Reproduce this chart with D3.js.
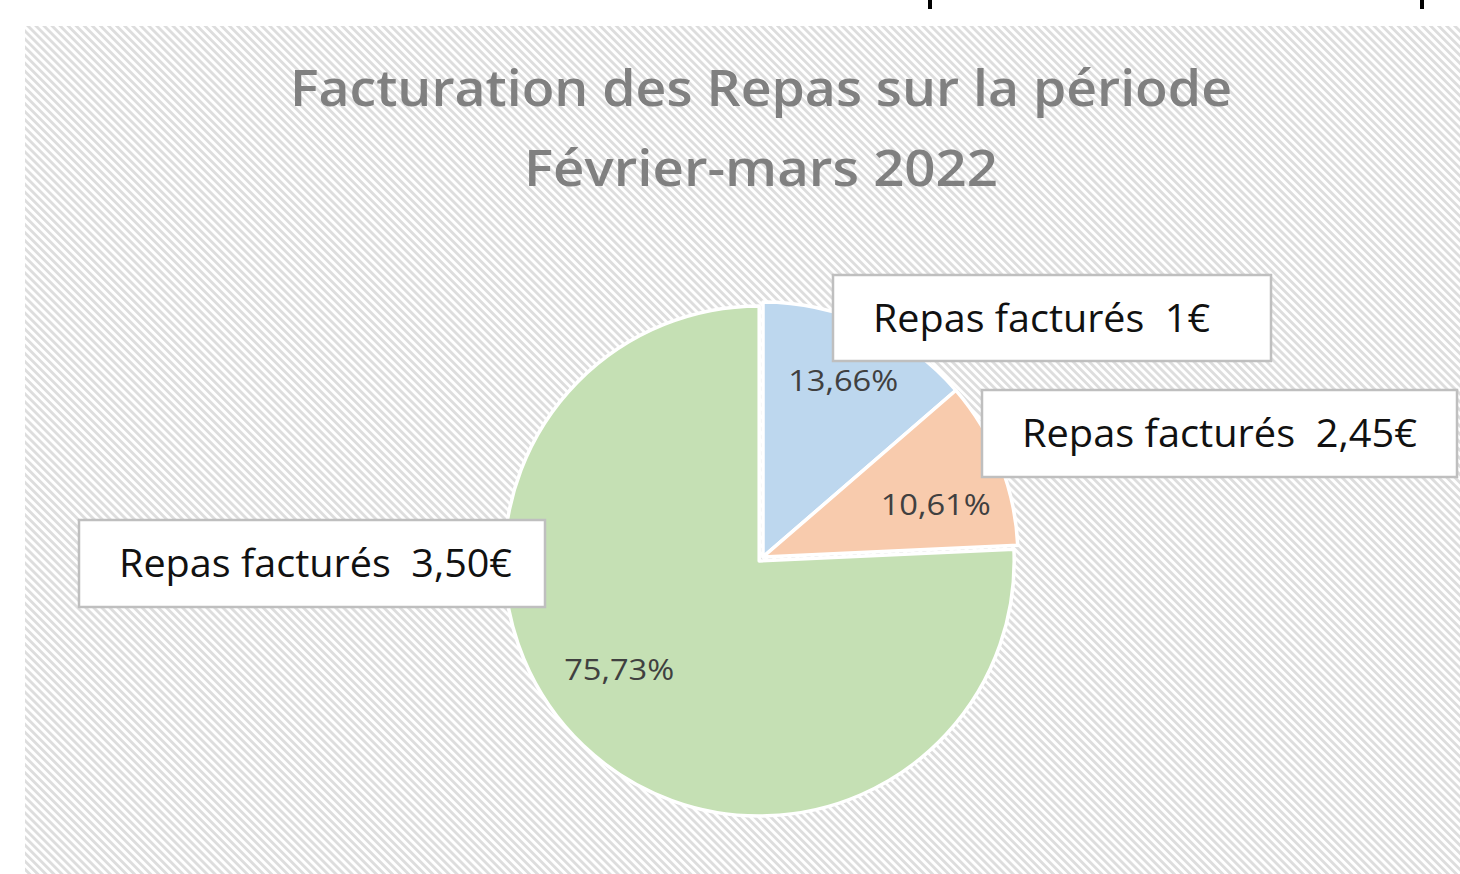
<!DOCTYPE html>
<html>
<head>
<meta charset="utf-8">
<script src="https://cdn.jsdelivr.net/npm/d3@7"></script>
<style>
  body { margin: 0; background: #fff; }
  svg { display: block; }
</style>
</head>
<body>
<div id="chart"></div>
<script>
// data
const categories = ["Repas facturés  1€", "Repas facturés  2,45€", "Repas facturés  3,50€"];
const shares = [13.66, 10.61, 75.73];
const shareLabels = ["13,66%", "10,61%", "75,73%"];
const colors = ["#bdd7ee", "#f8cbad", "#c5e0b4"];
const titleLines = ["Facturation des Repas sur la période", "Février-mars 2022"];

// callout boxes, placed by hand like in the original sheet
const callouts = [
    {x: 833, y: 275, w: 438, h: 86},
    {x: 982, y: 390, w: 475, h: 87},
    {x: 79, y: 520, w: 466, h: 87}
];
// small nudges Excel gave to the % labels (best fit)
const pctNudge = [[2, -5], [-2, 17], [-14, -23]];
const explode = [0, 0, 5.5];

const W = 1460, H = 874;
const area = {x: 25, y: 26, w: W - 25, h: H - 26};
const cx = 763, cy = 557, radius = 255;

const svg = d3.select("#chart")
    .append("svg")
    .attr("width", W)
    .attr("height", H);

/* hatch background */
const pat = svg.append("defs")
    .append("pattern")
    .attr("id", "hatch")
    .attr("patternUnits", "userSpaceOnUse")
    .attr("width", 5.7)
    .attr("height", 10)
    .attr("patternTransform", "rotate(-45)");
pat.append("rect")
    .attr("width", 5.7).attr("height", 10).attr("fill", "#fff");
pat.append("rect")
    .attr("width", 2.8).attr("height", 10).attr("fill", "#dddddd");

svg.append("rect")
    .attr("x", area.x).attr("y", area.y)
    .attr("width", area.w).attr("height", area.h)
    .attr("fill", "url(#hatch)");

// little black marks at the top edge (cut off cell borders)
svg.selectAll("rect.mark")
    .data([928, 1420])
    .enter()
    .append("rect")
    .attr("class", "mark")
    .attr("x", d => d).attr("y", 0)
    .attr("width", 4).attr("height", 9)
    .attr("fill", "#000");

/* title */
svg.selectAll("text.title")
    .data(titleLines)
    .enter()
    .append("text")
    .attr("class", "title")
    .attr("x", 761)
    .attr("y", (d, i) => 106 + i * 80)
    .attr("text-anchor", "middle")
    .attr("font-family", "'Open Sans', sans-serif")
    .attr("font-weight", 600)
    .attr("font-size", 50)
    .attr("fill", "#808080")
    .attr("textLength", (d, i) => i === 0 ? 942 : 474)
    .attr("lengthAdjust", "spacingAndGlyphs")
    .text(d => d);

/* pie */
const pie = d3.pie().sort(null).value(d => d);
const arcs = pie(shares);
const arc = d3.arc().innerRadius(0).outerRadius(radius);
const labelArc = d3.arc().innerRadius(188).outerRadius(188);
const shiftArc = d3.arc().innerRadius(0).outerRadius(0);

const g = svg.append("g")
    .attr("transform", `translate(${cx}, ${cy})`);

function offset(d, i) {
    const a = (d.startAngle + d.endAngle) / 2;
    return [Math.sin(a) * explode[i], -Math.cos(a) * explode[i]];
}

g.selectAll("path")
    .data(arcs)
    .enter()
    .append("path")
    .attr("d", arc)
    .attr("transform", (d, i) => `translate(${offset(d, i)})`)
    .attr("fill", (d, i) => colors[i])
    .attr("stroke", "#fff")
    .attr("stroke-width", 3.5)
    .attr("stroke-linejoin", "round");

g.selectAll("text.pct")
    .data(arcs)
    .enter()
    .append("text")
    .attr("class", "pct")
    .attr("x", (d, i) => labelArc.centroid(d)[0] + pctNudge[i][0])
    .attr("y", (d, i) => labelArc.centroid(d)[1] + pctNudge[i][1])
    .attr("dy", "0.35em")
    .attr("text-anchor", "middle")
    .attr("font-family", "'Open Sans', sans-serif")
    .attr("font-size", 29)
    .attr("fill", "#404040")
    .attr("textLength", 110)
    .attr("lengthAdjust", "spacingAndGlyphs")
    .text((d, i) => shareLabels[i]);

/* category callouts */
const boxes = svg.selectAll("g.callout")
    .data(callouts)
    .enter()
    .append("g")
    .attr("class", "callout")
    .attr("transform", d => `translate(${d.x}, ${d.y})`);

boxes.append("rect")
    .attr("width", d => d.w)
    .attr("height", d => d.h)
    .attr("fill", "#fff")
    .attr("stroke", "#bfbfbf")
    .attr("stroke-width", 2.5);

boxes.append("text")
    .attr("x", 40)
    .attr("y", d => d.h / 2)
    .attr("dy", "0.36em")
    .attr("font-family", "'Open Sans', sans-serif")
    .attr("font-size", 38)
    .attr("fill", "#111")
    .attr("textLength", (d, i) => [337, 395, 393][i])
    .attr("lengthAdjust", "spacingAndGlyphs")
    .style("white-space", "pre")
    .text((d, i) => categories[i]);
</script>
</body>
</html>
